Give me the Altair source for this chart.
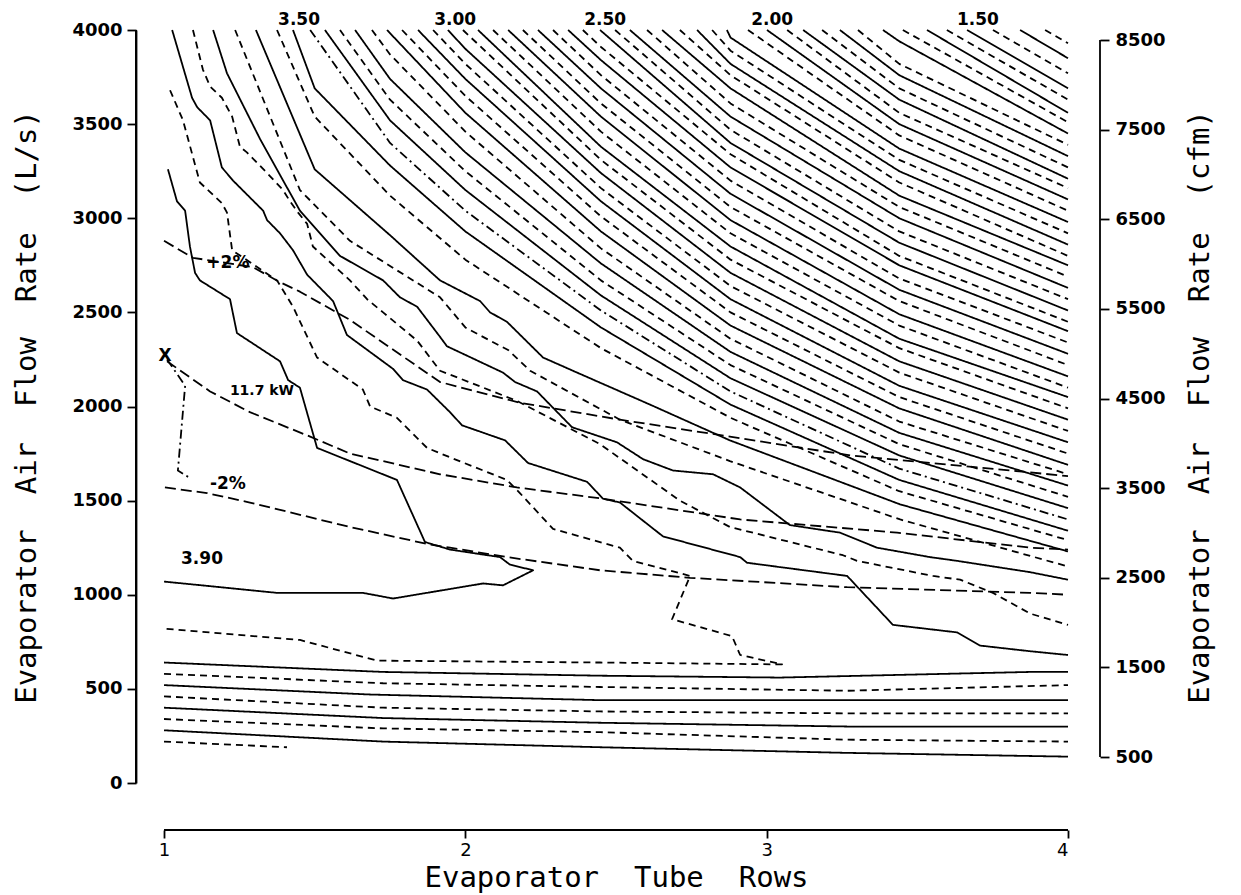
import altair as alt
import pandas as pd

# ---------------------------------------------------------------------------
# COP contours, upper family: each line leaves the 4000 L/s edge at
# family_top_rows and is then read at fixed tube-row columns.
# ---------------------------------------------------------------------------
family_levels = [3.55, 3.50, 3.45, 3.40, 3.35, 3.30, 3.25, 3.20, 3.15, 3.10, 3.05, 3.00,
                 2.95, 2.90, 2.85, 2.80, 2.75, 2.70, 2.65, 2.60, 2.55, 2.50, 2.45, 2.40,
                 2.35, 2.30, 2.25, 2.20, 2.15, 2.10, 2.05, 2.00, 1.95, 1.90, 1.85, 1.80,
                 1.75, 1.70, 1.65, 1.60, 1.55, 1.50, 1.45, 1.40, 1.35]
family_top_rows = [1.375, 1.428, 1.485, 1.534, 1.584, 1.634, 1.690, 1.740, 1.790, 1.843, 1.893, 1.942,
                   1.992, 2.042, 2.092, 2.142, 2.191, 2.241, 2.291, 2.341, 2.390, 2.447, 2.497, 2.546,
                   2.603, 2.653, 2.712, 2.769, 2.819, 2.868, 2.938, 3.001, 3.068, 3.121, 3.184, 3.243,
                   3.303, 3.386, 3.452, 3.532, 3.598, 3.665, 3.751, 3.841, 3.924]
family_cols = [1.50, 1.75, 2.00, 2.45, 2.88, 3.44, 4.00]
# air flow (L/s) at each column, listed from the 3.55 line onward
flow_at_150 = [3540, 3690]
flow_at_175 = [3120, 3280, 3400, 3520, 3630, 3740, 3870]
flow_at_200 = [2780, 2930, 3040, 3150, 3250, 3350, 3460, 3560, 3650, 3740, 3820, 3900]
flow_at_245 = [2310, 2420, 2510, 2590, 2670, 2760, 2840, 2930, 3010, 3090, 3160, 3240,
               3310, 3380, 3460, 3540, 3610, 3690, 3760, 3840, 3910]
flow_at_288 = [1940, 2010, 2080, 2150, 2220, 2290, 2360, 2430, 2500, 2570, 2640, 2710,
               2780, 2850, 2920, 2990, 3060, 3130, 3200, 3270, 3340, 3400, 3470, 3540,
               3610, 3690, 3760, 3820, 3890, 3960]
flow_at_344 = [1550, 1610, 1670, 1740, 1800, 1860, 1920, 1990, 2050, 2110, 2180, 2240,
               2310, 2360, 2430, 2490, 2560, 2620, 2680, 2750, 2800, 2870, 2930, 3000,
               3060, 3120, 3190, 3250, 3310, 3370, 3440, 3500, 3560, 3630, 3690, 3760,
               3820, 3940]
flow_at_400 = [1290, 1340, 1400, 1460, 1520, 1580, 1640, 1690, 1750, 1810, 1870, 1930,
               1990, 2050, 2100, 2160, 2220, 2280, 2340, 2400, 2450, 2510, 2570, 2630,
               2690, 2750, 2800, 2860, 2920, 2980, 3040, 3100, 3160, 3210, 3270, 3330,
               3390, 3450, 3510, 3560, 3630, 3690, 3770, 3850, 3930]
family_columns = [flow_at_150, flow_at_175, flow_at_200, flow_at_245,
                  flow_at_288, flow_at_344, flow_at_400]

# ---------------------------------------------------------------------------
# COP contours near the optimum (traced individually)
# ---------------------------------------------------------------------------
cop_360_rows = [1.305, 1.50, 1.75, 1.916, 2.049, 2.082, 2.138, 2.258, 2.371, 2.613, 2.878, 3.443, 4.0]
cop_360_flow = [4000, 3260, 2910, 2670, 2560, 2500, 2450, 2260, 2180, 2010, 1820, 1480, 1230]

cop_365_rows = [1.236, 1.451, 1.617, 1.916, 2.0, 2.082, 2.142, 2.215, 2.513, 2.878, 3.443, 4.0]
cop_365_flow = [4000, 3150, 2880, 2580, 2420, 2350, 2300, 2190, 1930, 1710, 1400, 1150]

cop_370_rows = [1.163, 1.209, 1.319, 1.451, 1.584, 1.727, 1.783, 1.840, 1.916, 1.939,
                2.125, 2.165, 2.238, 2.354, 2.503, 2.590, 2.689, 2.822, 2.912, 3.077,
                3.243, 3.366, 3.542, 3.632, 3.874, 4.0]
cop_370_flow = [4000, 3770, 3420, 3040, 2800, 2670, 2580, 2530, 2370, 2320,
                2180, 2130, 2080, 1890, 1810, 1720, 1660, 1640, 1570, 1370,
                1330, 1250, 1200, 1180, 1120, 1080]

cop_375_rows = [1.096, 1.129, 1.153, 1.192, 1.226, 1.252, 1.275, 1.342, 1.395, 1.418,
                1.445, 1.475, 1.494, 1.617, 1.674, 1.727, 1.840, 1.916, 2.171, 2.447,
                2.712, 2.878, 3.253, 3.300, 3.552, 3.642, 3.751, 3.874, 4.0]
cop_375_flow = [4000, 3790, 3700, 3640, 3540, 3380, 3350, 3240, 3150, 3090,
                3030, 2970, 2850, 2670, 2570, 2500, 2350, 2190, 2030, 1800,
                1500, 1360, 1210, 1180, 1100, 1080, 1010, 900, 840]

cop_380_rows = [1.027, 1.093, 1.110, 1.153, 1.192, 1.229, 1.329, 1.342, 1.385, 1.428,
                1.475, 1.561, 1.607, 1.760, 1.793, 1.873, 1.949, 1.989, 2.132, 2.208,
                2.404, 2.457, 2.513, 2.656, 2.912, 2.935, 3.267, 3.419, 3.632, 3.708,
                3.874, 4.0]
cop_380_flow = [4000, 3640, 3590, 3520, 3270, 3200, 3040, 2990, 2920, 2830,
                2700, 2560, 2380, 2200, 2140, 2090, 1970, 1900, 1820, 1700,
                1600, 1510, 1490, 1310, 1200, 1170, 1100, 840, 800, 730,
                700, 680]

cop_385_rows = [1.020, 1.063, 1.119, 1.192, 1.209, 1.226, 1.375, 1.428, 1.508, 1.660,
                1.684, 1.773, 1.873, 1.949, 2.138, 2.181, 2.291, 2.513, 2.556, 2.746,
                2.686, 2.885, 2.912, 3.051, 2.447, 1.707, 1.451, 1.0]
cop_385_flow = [3680, 3520, 3190, 3080, 3030, 2830, 2670, 2530, 2260, 2090,
                2000, 1940, 1780, 1730, 1610, 1540, 1350, 1250, 1180, 1100,
                870, 780, 680, 630, 640, 650, 760, 820]

cop_390_rows = [1.013, 1.043, 1.070, 1.086, 1.103, 1.119, 1.219, 1.242, 1.385, 1.412,
                1.451, 1.508, 1.773, 1.866, 1.949, 2.115, 2.148, 2.225, 2.125, 2.059,
                1.760, 1.660, 1.375, 1.0]
cop_390_flow = [3260, 3090, 3040, 2850, 2710, 2670, 2570, 2390, 2240, 2140,
                2100, 1780, 1610, 1280, 1240, 1200, 1160, 1130, 1050, 1060,
                980, 1010, 1010, 1070]

# Low-airflow branches of the same contours
low_380_rows = [1.0, 1.727, 2.447, 3.044, 3.874, 4.0]
low_380_flow = [640, 590, 570, 560, 590, 590]
low_375_rows = [1.0, 1.727, 2.447, 3.267, 4.0]
low_375_flow = [580, 530, 510, 490, 520]
low_370_rows = [1.0, 1.684, 2.447, 4.0]
low_370_flow = [520, 470, 440, 440]
low_365_rows = [1.0, 1.727, 2.447, 3.267, 4.0]
low_365_flow = [460, 400, 380, 370, 370]
low_360_rows = [1.0, 1.727, 2.447, 3.267, 4.0]
low_360_flow = [400, 345, 320, 300, 300]
low_355_rows = [1.0, 1.727, 2.447, 3.267, 4.0]
low_355_flow = [340, 290, 270, 230, 220]
low_350_rows = [1.0, 1.727, 2.447, 3.267, 4.0]
low_350_flow = [280, 220, 190, 160, 140]
low_345_rows = [1.0, 1.408]
low_345_flow = [220, 190]

# Capacity lines
cap_plus2_rows = [1.0, 1.096, 1.295, 1.385, 1.451, 1.617, 1.916, 2.181, 2.513, 2.878, 3.277, 3.874, 4.0]
cap_plus2_flow = [2880, 2790, 2740, 2660, 2610, 2460, 2130, 2020, 1930, 1840, 1740, 1650, 1630]
cap_117_rows = [1.010, 1.153, 1.285, 1.485, 1.617, 1.916, 2.171, 2.457, 2.912, 3.433, 3.874, 4.0]
cap_117_flow = [2240, 2080, 1970, 1840, 1750, 1640, 1570, 1510, 1400, 1330, 1250, 1240]
cap_minus2_rows = [1.003, 1.143, 1.285, 1.617, 1.873, 1.949, 2.138, 2.447, 2.746, 3.267, 3.874, 4.0]
cap_minus2_flow = [1570, 1540, 1490, 1360, 1270, 1250, 1200, 1130, 1090, 1040, 1010, 1000]
design_link_rows = [1.010, 1.070, 1.046, 1.086]
design_link_flow = [2250, 2110, 1660, 1620]

# Text
top_labels = ["3.50", "3.00", "2.50", "2.00", "1.50"]
top_label_rows = [1.448, 1.966, 2.464, 3.018, 3.701]
note_texts = ["+2%", "-2%", "3.90", "X"]
note_rows = [1.212, 1.212, 1.126, 1.003]
note_flow = [2760, 1590, 1190, 2270]
kw_text = "11.7 kW"
kw_rows = 1.325
kw_flow = 2080

# Axes
row_ticks = [1, 2, 3, 4]
flow_ticks = [0, 500, 1000, 1500, 2000, 2500, 3000, 3500, 4000]
cfm_ticks = [500, 1500, 2500, 3500, 4500, 5500, 6500, 7500, 8500]

# ---------------------------------------------------------------------------
records = []


def add_line(name, style, xs, ys):
    assert len(xs) == len(ys), name
    for k, (x, y) in enumerate(zip(xs, ys)):
        records.append(dict(kind="line", line=name, style=style, seq=k,
                            rows=x, flow=y, text=""))


def contour_style(level):
    if abs(level - 3.45) < 1e-6:
        return "dashdot"
    return "solid" if round(level * 100) % 10 == 0 else "dashed"


for i, lev in enumerate(family_levels):
    xs, ys = [family_top_rows[i]], [4000]
    for c, vals in zip(family_cols, family_columns):
        if i < len(vals) and c > family_top_rows[i]:
            xs.append(c)
            ys.append(vals[i])
    add_line(f"cop{lev:.2f}", contour_style(lev), xs, ys)

add_line("cop3.60", "solid", cop_360_rows, cop_360_flow)
add_line("cop3.65", "dashed", cop_365_rows, cop_365_flow)
add_line("cop3.70", "solid", cop_370_rows, cop_370_flow)
add_line("cop3.75", "dashed", cop_375_rows, cop_375_flow)
add_line("cop3.80", "solid", cop_380_rows, cop_380_flow)
add_line("cop3.85", "dashed", cop_385_rows, cop_385_flow)
add_line("cop3.90", "solid", cop_390_rows, cop_390_flow)
add_line("low3.80", "solid", low_380_rows, low_380_flow)
add_line("low3.75", "dashed", low_375_rows, low_375_flow)
add_line("low3.70", "solid", low_370_rows, low_370_flow)
add_line("low3.65", "dashed", low_365_rows, low_365_flow)
add_line("low3.60", "solid", low_360_rows, low_360_flow)
add_line("low3.55", "dashed", low_355_rows, low_355_flow)
add_line("low3.50", "solid", low_350_rows, low_350_flow)
add_line("low3.45", "dashed", low_345_rows, low_345_flow)
add_line("cap+2", "capacity", cap_plus2_rows, cap_plus2_flow)
add_line("cap11.7", "capacity", cap_117_rows, cap_117_flow)
add_line("cap-2", "capacity", cap_minus2_rows, cap_minus2_flow)
add_line("link", "dashdot", design_link_rows, design_link_flow)

for t, r in zip(top_labels, top_label_rows):
    records.append(dict(kind="top", line="", style="", seq=0, rows=r, flow=4000, text=t))
for t, r, f in zip(note_texts, note_rows, note_flow):
    records.append(dict(kind="note", line="", style="", seq=0, rows=r, flow=f, text=t))
records.append(dict(kind="kw", line="", style="", seq=0, rows=kw_rows, flow=kw_flow, text=kw_text))

df = pd.DataFrame(records)

# ---------------------------------------------------------------------------
# The x scale starts a little left of one tube row so that the left axis
# stands apart from the contours; the bottom axis line is drawn from 1 to 4.
X_MIN = 0.907
W, H = 932, 753
X_AXIS_OFFSET, RIGHT_OFFSET = 47, 32
TITLE_FONT = "DejaVu Sans Mono"
LABEL_FONT = "DejaVu Sans"
SP = " \u00a0"   # widened word gap in axis titles

x_axis = alt.Axis(values=row_ticks, format="d", offset=X_AXIS_OFFSET, tickSize=8,
                  domain=False,
                  labelFont=LABEL_FONT, labelFontSize=18, labelPadding=3,
                  title=f"Evaporator{SP}Tube{SP}Rows", titleFont=TITLE_FONT,
                  titleFontSize=29, titleFontWeight="normal", titlePadding=4,
                  titleX=(1.0 - X_MIN) / (4.0 - X_MIN) * W + (3.0 / (4.0 - X_MIN) * W) / 2)
y_axis = alt.Axis(values=flow_ticks, format="d", offset=0, tickSize=9,
                  domain=True,
                  labelFont=LABEL_FONT, labelFontSize=18, labelFontWeight="bold",
                  labelPadding=5,
                  title=f"Evaporator{SP}Air{SP}Flow{SP}Rate{SP}(L/s)", titleFont=TITLE_FONT,
                  titleFontSize=29, titleFontWeight="normal", titlePadding=30)

x_scale = alt.Scale(domain=[X_MIN, 4], nice=False, zero=False)
y_scale = alt.Scale(domain=[0, 4000], nice=False, zero=False)

base = alt.Chart(df).encode(
    x=alt.X("rows:Q", scale=x_scale, axis=x_axis),
    y=alt.Y("flow:Q", scale=y_scale, axis=y_axis),
)

lines = base.transform_filter(alt.datum.kind == "line").mark_line(
    color="black", strokeWidth=1.8, strokeCap="butt", strokeJoin="round"
).encode(
    detail="line:N",
    order="seq:Q",
    strokeDash=alt.StrokeDash(
        "style:N",
        scale=alt.Scale(domain=["solid", "dashed", "dashdot", "capacity"],
                        range=[[1, 0], [7, 5], [9, 4, 2, 4], [11, 5]]),
        legend=None,
    ),
)

tops = base.transform_filter(alt.datum.kind == "top").mark_text(
    font=LABEL_FONT, fontSize=17, fontWeight="bold", baseline="bottom",
    align="center", dy=-1, color="black"
).encode(text="text:N")

notes = base.transform_filter(alt.datum.kind == "note").mark_text(
    font=LABEL_FONT, fontSize=17, fontWeight="bold", baseline="middle",
    align="center", color="black"
).encode(text="text:N")

kw = base.transform_filter(alt.datum.kind == "kw").mark_text(
    font=LABEL_FONT, fontSize=14, fontWeight="bold", baseline="middle",
    align="center", color="black"
).encode(text="text:N")

# axis lines: left from 0 to 4000 L/s, bottom from 1 to 4 tube rows
left_bar = alt.Chart(pd.DataFrame({"flow": [flow_ticks[0]], "flow2": [flow_ticks[-1]]})).mark_rect(
    color="black"
).encode(x=alt.value(-1), x2=alt.value(1),
         y=alt.Y("flow:Q", scale=y_scale, axis=y_axis), y2="flow2:Q")

bottom_line = alt.Chart(pd.DataFrame({"rows": [row_ticks[0]], "rows2": [row_ticks[-1]]})).mark_rule(
    color="black", strokeWidth=1.8
).encode(x=alt.X("rows:Q", scale=x_scale, axis=x_axis), x2="rows2:Q",
         y=alt.value(H + X_AXIS_OFFSET))

main = alt.layer(lines, left_bar, bottom_line, tops, notes, kw)

right_axis = alt.Axis(orient="right", values=cfm_ticks, format="d", offset=RIGHT_OFFSET, tickSize=9,
                      domain=False,
                      labelFont=LABEL_FONT, labelFontSize=18, labelFontWeight="bold",
                      labelPadding=6,
                      title=f"Evaporator{SP}Air{SP}Flow{SP}Rate{SP}(cfm)", titleFont=TITLE_FONT,
                      titleFontSize=29, titleFontWeight="normal", titleAngle=270,
                      titleBaseline="top", titlePadding=20)

cfm_scale = alt.Scale(domain=[210, 8612], nice=False, zero=False)
right = alt.Chart(pd.DataFrame({"lo": [cfm_ticks[0]], "hi": [cfm_ticks[-1]]})).mark_rule(
    color="black", strokeWidth=1.8
).encode(
    x=alt.value(W + RIGHT_OFFSET),
    y=alt.Y("lo:Q", scale=cfm_scale, axis=right_axis),
    y2="hi:Q",
)

chart = (
    alt.layer(main, right)
    .resolve_scale(y="independent")
    .properties(
        width=W, height=H,
        autosize=alt.AutoSizeParams(type="none"),
        padding={"left": 136, "top": 30, "right": 173, "bottom": 112},
        background="white",
    )
    .configure_view(strokeWidth=0)
    .configure_axis(grid=False, domainColor="black", tickColor="black",
                    labelColor="black", titleColor="black",
                    domainWidth=1.8, tickWidth=1.8)
)

chart.save("out.html", embed_options={"renderer": "svg", "actions": False})
